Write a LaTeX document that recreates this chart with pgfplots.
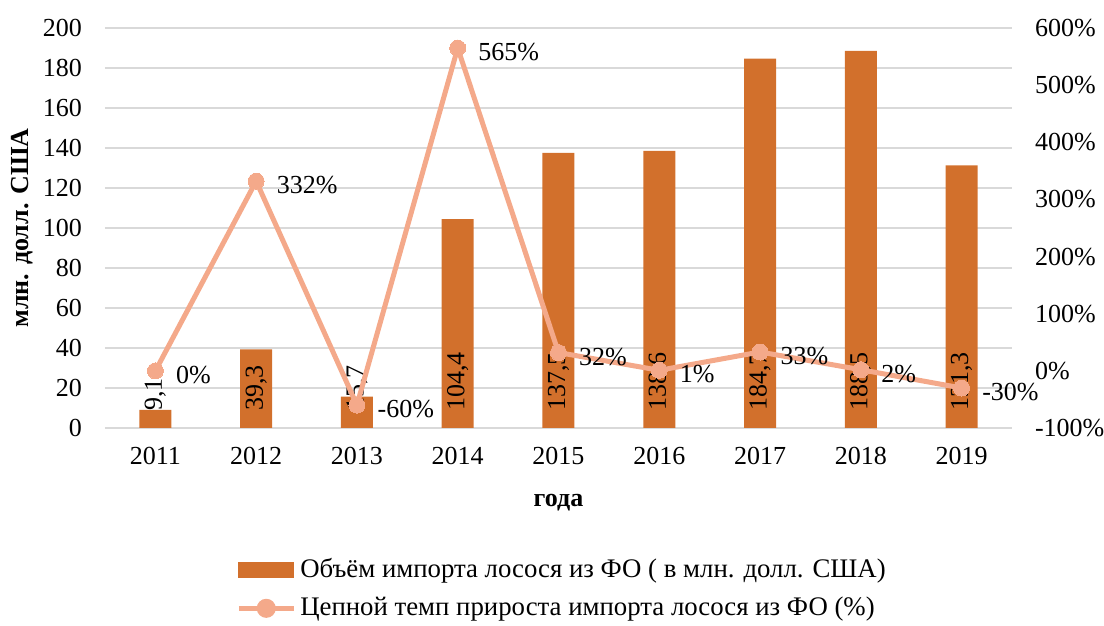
\documentclass[border=0pt]{standalone}
\usepackage{pgfplots}
\pgfplotsset{compat=1.18}
\usepackage{fontspec}
\setmainfont{Liberation Serif}
\definecolor{barc}{HTML}{D2702C}
\definecolor{linec}{HTML}{F4A98A}
\definecolor{gridc}{HTML}{D9D9D9}
\begin{document}
\fontsize{13}{15.6}\selectfont
\begin{tikzpicture}
\path[use as bounding box] (-52.5pt,-99pt) rectangle (499.5pt,214pt);
\begin{axis}[
  scale only axis, width=453.5pt, height=200pt,
  xmin=-0.5, xmax=8.5, ymin=0, ymax=200,
  xtick={0,...,8},
  xticklabels={2011,2012,2013,2014,2015,2016,2017,2018,2019},
  ytick={0,20,...,200},
  ymajorgrids, grid style={gridc, line width=1pt},
  axis line style={draw=none},
  major tick length=0pt,
  /pgf/number format/assume math mode=true,
  tick label style={font=\fontsize{13}{15.6}\selectfont},
  xticklabel style={yshift=-5pt},
  yticklabel style={xshift=-7pt},
  ylabel={\textbf{млн. долл. США}},
  ylabel style={font=\fontsize{13}{15.6}\selectfont, yshift=-4pt},
  xlabel={\textbf{года}},
  xlabel style={font=\fontsize{13}{15.6}\selectfont, yshift=-6pt},
]
\addplot[ybar, bar width=16pt, fill=barc, draw=none] coordinates {
  (0,9.1) (1,39.3) (2,15.7) (3,104.4) (4,137.5) (5,138.6) (6,184.7) (7,188.5) (8,131.3)
};
\addplot[draw=none, mark=none, nodes near coords, point meta=explicit symbolic,
  every node near coord/.append style={font=\fontsize{13}{15.6}\selectfont, anchor=west, rotate=90, xshift=4pt}]
  coordinates {
  (0,0) [9,1] (1,0) [39,3] (2,0) [15,7] (3,0) [104,4] (4,0) [137,5]
  (5,0) [138,6] (6,0) [184,7] (7,0) [188,5] (8,0) [131,3]
};
\end{axis}
\begin{axis}[
  scale only axis, width=453.5pt, height=200pt,
  xmin=-0.5, xmax=8.5, ymin=-100, ymax=600,
  axis x line=none,
  axis y line*=right,
  axis line style={draw=none},
  major tick length=0pt,
  ytick={-100,0,...,600},
  /pgf/number format/assume math mode=true,
  yticklabel={\pgfmathprintnumber{\tick}\%},
  tick label style={font=\fontsize{13}{15.6}\selectfont},
  yticklabel style={xshift=7pt},
  legend style={at={(0.505,-0.315)}, anchor=north, draw=none, fill=none,
    font=\fontsize{13.4}{16}\selectfont, row sep=3.8pt, inner sep=0pt,
    /tikz/every even column/.append style={column sep=0pt}},
  legend cell align=left,
]
\addlegendimage{legend image code/.code={\fill[barc] (0pt,-3.75pt) rectangle (27.5pt,3.75pt);}}
\addlegendentry{Объём импорта лосося из ФО ( в млн. долл. США)}
\addplot[linec, line width=2.5pt, mark=*, mark size=4pt, mark options={fill=linec, draw=linec, line width=0pt},
  nodes near coords, point meta=explicit symbolic,
  every node near coord/.append style={font=\fontsize{13}{15.6}\selectfont, text=black, anchor=west, xshift=6pt, yshift=-2pt},
  legend image code/.code={\draw[linec, line width=2.5pt] (0pt,0pt) -- (27.5pt,0pt); \fill[linec] (13.75pt,0pt) circle (3.5pt);}]
  coordinates {
  (0,0) [0\%] (1,332) [332\%] (2,-60) [-60\%] (3,565) [565\%] (4,32) [32\%]
  (5,1) [1\%] (6,33) [33\%] (7,2) [2\%] (8,-30) [-30\%]
};
\addlegendentry{Цепной темп прироста импорта лосося из ФО (\%)}
\end{axis}
\end{tikzpicture}
\end{document}
